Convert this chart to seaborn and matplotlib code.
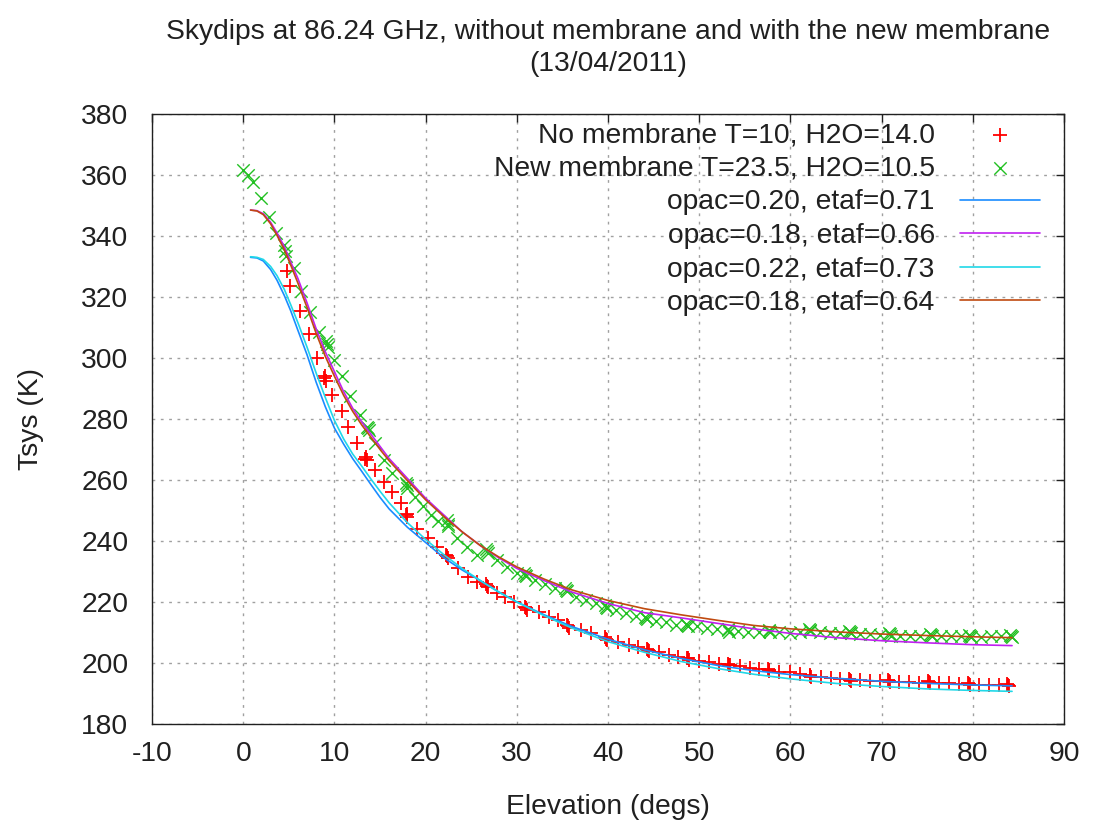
import numpy as np
import pandas as pd
import seaborn as sns
import matplotlib.pyplot as plt

no_mem_elev = [4.8, 5.1, 6.2, 7.2, 8.1, 8.9, 9.0, 9.1, 9.7, 10.8, 11.5, 12.5,
               13.4, 13.5, 13.6, 14.5, 15.4, 16.3, 17.3, 17.8, 17.9, 18.0,
               19.1, 20.3, 21.2, 22.2, 22.3, 22.4, 23.5, 24.6, 25.6,
               26.6, 26.7, 26.8, 27.8, 28.7, 29.7, 30.9, 31.0, 31.1,
               32.4, 33.5, 34.5, 35.5, 35.6, 35.7, 37.0, 38.1, 39.7, 39.8, 39.9,
               41.1, 42.3, 43.3, 44.3, 44.4, 44.5, 45.6, 46.7, 47.7, 48.7, 48.8, 48.9,
               50.0, 51.1, 52.2, 53.2, 53.3, 53.4, 54.5, 55.6, 56.6, 57.5, 57.6, 57.7,
               58.8, 59.9, 61.0, 62.1, 62.2, 62.3, 63.3, 64.4, 65.4, 66.4, 66.5, 66.6,
               67.6, 68.7, 69.8, 70.7, 70.8, 70.9, 71.9, 73.0, 74.1, 75.1, 75.2, 75.3,
               76.3, 77.4, 78.5, 79.5, 79.6, 79.7, 80.7, 81.8, 82.9, 83.8, 83.9, 84.0]
no_mem_tsys = [328.5, 323.5, 315.5, 308.0, 300.0, 293.5, 294.0, 292.5, 288.0, 282.5, 277.5, 272.0,
               267.0, 267.5, 266.5, 263.3, 259.4, 256.0, 252.5, 248.5, 249.0, 248.0,
               243.8, 240.9, 238.1, 235.5, 235.0, 234.5, 231.0, 228.3, 226.7,
               225.8, 225.3, 224.8, 222.9, 221.8, 220.1, 218.4, 218.0, 217.5,
               216.8, 215.2, 214.1, 212.4, 212.0, 211.6, 210.8, 209.7, 208.4, 208.0, 207.6,
               207.0, 205.9, 205.2, 204.7, 204.3, 203.9, 203.7, 202.6, 202.0, 201.8, 201.5, 201.1,
               200.8, 200.3, 199.8, 199.8, 199.5, 199.2, 199.0, 198.5, 198.0, 197.9, 197.6, 197.3,
               197.2, 196.9, 196.4, 196.1, 195.8, 195.5, 195.5, 195.2, 194.8, 194.8, 194.5, 194.2,
               194.4, 194.2, 194.0, 194.3, 194.0, 193.7, 193.9, 193.7, 193.6, 194.0, 193.7, 193.4,
               193.3, 193.3, 193.2, 193.3, 193.0, 192.7, 192.8, 192.7, 192.8, 193.0, 192.7, 192.4]

new_mem_elev = [0.0, 0.5, 1.1, 1.9, 2.8, 3.6, 4.5, 4.6, 4.7, 5.6, 6.3, 7.3, 8.3,
                9.1, 9.2, 9.3, 9.9, 10.8, 11.7, 12.8, 13.6, 13.7, 13.8, 14.5, 15.4, 16.3,
                17.8, 17.9, 18.0, 18.8, 19.7, 20.6, 21.4, 22.3, 22.4, 22.5, 23.4, 24.5, 25.6,
                26.6, 26.7, 26.8, 27.8, 28.9, 30.0, 30.8, 30.9, 31.0, 32.0, 33.1, 34.2,
                35.3, 35.4, 35.5, 36.5, 37.6, 38.7, 39.7, 39.8, 39.9, 40.9, 42.0, 43.1,
                44.1, 44.2, 44.3, 45.3, 46.4, 47.5, 48.6, 48.7, 48.8, 49.8, 50.9, 52.0,
                53.1, 53.2, 53.3, 54.3, 55.4, 56.5, 57.6, 57.7, 57.8, 58.8, 59.9, 61.0,
                62.0, 62.1, 62.2, 63.2, 64.3, 65.4, 66.4, 66.5, 66.6, 67.6, 68.7, 69.8,
                70.8, 70.9, 71.0, 72.0, 73.1, 74.2, 75.3, 75.4, 75.5, 76.5, 77.6, 78.7,
                79.6, 79.7, 79.8, 80.9, 82.0, 83.1, 84.1, 84.2, 84.3]
new_mem_tsys = [361.6, 360.0, 357.6, 352.6, 346.3, 341.0, 337.0, 335.0, 333.5, 329.5, 322.0, 315.0, 308.5,
                305.5, 304.5, 303.5, 299.5, 294.0, 287.5, 281.3, 277.5, 277.0, 276.3, 272.0, 266.6, 262.2,
                259.0, 258.5, 257.5, 254.5, 251.5, 248.5, 246.5, 246.9, 245.5, 245.0, 241.0, 238.1, 235.5,
                237.4, 236.8, 236.2, 233.8, 231.6, 229.4, 229.6, 229.0, 228.4, 227.3, 225.8, 224.5,
                224.5, 224.0, 223.5, 221.8, 220.8, 219.8, 219.0, 218.5, 218.0, 217.3, 216.3, 215.5,
                215.2, 214.8, 214.3, 213.8, 213.3, 212.6, 212.9, 212.5, 212.1, 212.0, 211.4, 211.0,
                211.1, 210.7, 210.3, 210.6, 210.3, 210.2, 210.7, 210.4, 210.0, 210.0, 209.9, 210.0,
                211.1, 210.8, 210.4, 210.0, 209.8, 209.9, 210.6, 210.3, 209.9, 209.5, 209.5, 209.3,
                209.7, 209.4, 209.0, 209.0, 209.0, 209.0, 209.5, 209.2, 208.8, 208.7, 208.8, 208.8,
                209.3, 209.0, 208.6, 208.6, 208.7, 208.8, 209.3, 209.0, 208.6]

# Model curves
model_elev = [0.8, 1.5, 2.2, 3.0, 3.7, 4.5, 5.2, 6.0, 7.0, 8.0, 9.0, 10.0, 11.0, 12.0,
              13.0, 14.0, 15.0, 16.0, 18.0, 20.0, 22.0, 24.0, 26.0, 28.0, 30.0, 33.0,
              36.0, 40.0, 44.0, 48.0, 52.0, 56.0, 60.0, 65.0, 70.0, 75.0, 80.0, 84.3]
opac20_etaf71 = [333.0, 332.8, 331.8, 329.0, 325.5, 320.5, 315.5, 309.0, 301.0, 292.0, 284.0, 277.0,
                 271.8, 267.0, 262.8, 258.5, 254.3, 250.5, 244.5, 239.5, 234.5, 230.5, 227.0, 223.3,
                 220.0, 215.8, 212.0, 207.8, 204.3, 201.5, 199.2, 197.5, 196.2, 195.0, 194.0, 193.3,
                 192.8, 192.5]
opac18_etaf66 = [348.5, 348.3, 347.3, 344.5, 341.0, 336.5, 331.5, 326.0, 318.0, 309.5, 302.0, 295.5,
                 289.0, 283.5, 279.0, 275.0, 271.0, 267.0, 260.5, 254.0, 248.5, 243.0, 238.5, 234.5,
                 231.0, 227.0, 223.3, 219.5, 216.5, 214.8, 213.0, 211.2, 209.7, 208.3, 207.3, 206.6,
                 206.0, 205.7]
opac22_etaf73 = [333.2, 333.0, 332.3, 330.0, 327.0, 322.5, 317.5, 311.5, 303.5, 295.0, 287.0, 279.5,
                 273.5, 268.5, 264.5, 260.3, 256.3, 252.5, 246.0, 240.5, 235.5, 231.0, 227.0, 223.3,
                 220.0, 215.5, 211.5, 207.0, 203.5, 200.5, 198.2, 196.3, 194.8, 193.3, 192.3, 191.5,
                 191.0, 190.7]
opac18_etaf64 = [348.5, 348.2, 347.0, 344.0, 340.2, 335.5, 330.5, 324.5, 316.5, 308.0, 300.5, 294.0,
                 287.8, 282.5, 278.0, 274.0, 270.0, 266.3, 259.8, 253.5, 248.0, 243.0, 238.5, 234.8,
                 231.5, 227.5, 224.0, 220.5, 217.8, 215.8, 214.0, 212.3, 211.2, 210.2, 209.5, 209.0,
                 208.6, 208.3]

sns.set_style('white')
plt.rcParams['font.family'] = ['Liberation Sans', 'DejaVu Sans']
plt.rcParams['axes.unicode_minus'] = False
fs = 20.3

fig = plt.figure(figsize=(10.94, 8.23), dpi=100)
ax = fig.add_axes([0.139, 0.1203, 0.8336, 0.7412])

sns.scatterplot(x=no_mem_elev, y=no_mem_tsys, marker='+', s=110, linewidth=1.3,
                color='#ff0000', label='No membrane T=10, H2O=14.0', ax=ax, zorder=3)
sns.scatterplot(x=new_mem_elev, y=new_mem_tsys, marker='x', s=80, linewidth=1.0,
                color='#22c022', label='New membrane T=23.5, H2O=10.5', ax=ax, zorder=3)

curves = [
    (opac20_etaf71, '#1a8cff', 'opac=0.20, etaf=0.71'),
    (opac18_etaf66, '#c020f0', 'opac=0.18, etaf=0.66'),
    (opac22_etaf73, '#20d8e8', 'opac=0.22, etaf=0.73'),
    (opac18_etaf64, '#c04a10', 'opac=0.18, etaf=0.64'),
]
for vals, col, lab in curves:
    sns.lineplot(x=model_elev, y=vals, color=col, linewidth=1.2, label=lab,
                 sort=False, ax=ax, zorder=4)

ax.set_xlim(-10, 90)
ax.set_ylim(180, 380)
ax.set_xticks(np.arange(-10, 91, 10))
ax.set_yticks(np.arange(180, 381, 20))
ax.grid(True, color='#a0a0a0', linestyle=(0, (2, 4)), linewidth=1.0)
ax.tick_params(axis='both', direction='in', length=6, width=1, top=True, right=True,
               colors='#202020', labelsize=fs)
ax.tick_params(axis='x', pad=12)
ax.tick_params(axis='y', pad=17)
for sp in ax.spines.values():
    sp.set_color('#202020')
    sp.set_linewidth(1.0)

ax.set_xlabel('Elevation (degs)', fontsize=fs, labelpad=20, color='#202020')
ax.set_ylabel('Tsys (K)', fontsize=fs, labelpad=27, color='#202020')
ax.set_title('Skydips at 86.24 GHz, without membrane and with the new membrane\n(13/04/2011)',
             fontsize=fs, pad=31, linespacing=1.28, color='#202020')

leg = ax.legend(loc='upper right', bbox_to_anchor=(0.986, 1.005), frameon=False,
                markerfirst=False, scatterpoints=1, handlelength=2.84, handletextpad=0.89,
                labelspacing=0.27, fontsize=fs, borderaxespad=0)
for t in leg.get_texts():
    t.set_ha('right')
    t.set_color('#202020')
leg._legend_box.align = 'right'

fig.savefig('out.png', dpi=100)
